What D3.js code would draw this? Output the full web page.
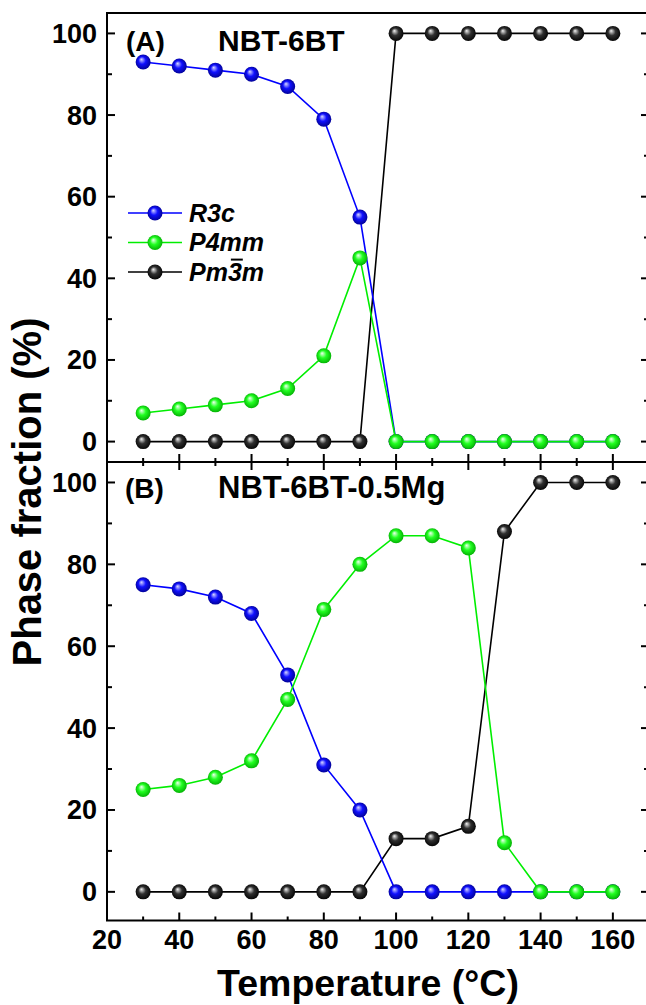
<!DOCTYPE html>
<html>
<head>
<meta charset="utf-8">
<script src="https://cdn.jsdelivr.net/npm/d3@7"></script>
<style>
  body { margin: 0; background: #fff; }
  svg text { font-family: "Liberation Sans", Arial, sans-serif; font-weight: bold; }
</style>
</head>
<body>
<svg id="chart" width="646" height="1005"></svg>
<script>
// temperatures (°C)
var temps = [30, 40, 50, 60, 70, 80, 90, 100, 110, 120, 130, 140, 150, 160];

// (A) NBT-6BT phase fractions (%)
var r3cA  = [93, 92, 91, 90, 87, 79, 55, 0, 0, 0, 0, 0, 0, 0];
var p4mmA = [7, 8, 9, 10, 13, 21, 45, 0, 0, 0, 0, 0, 0, 0];
var pm3mA = [0, 0, 0, 0, 0, 0, 0, 100, 100, 100, 100, 100, 100, 100];

// (B) NBT-6BT-0.5Mg phase fractions (%)
var r3cB  = [75, 74, 72, 68, 53, 31, 20, 0, 0, 0, 0, 0, 0, 0];
var p4mmB = [25, 26, 28, 32, 47, 69, 80, 87, 87, 84, 12, 0, 0, 0];
var pm3mB = [0, 0, 0, 0, 0, 0, 0, 13, 13, 16, 88, 100, 100, 100];

var xTickVals = [20, 40, 60, 80, 100, 120, 140, 160];
var yTickVals = [0, 20, 40, 60, 80, 100];

var svg = d3.select("#chart");

var x = d3.scaleLinear().domain([20, 170]).range([107, 649]);
var yA = d3.scaleLinear().domain([-5, 105]).range([462, 13]);
var yB = d3.scaleLinear().domain([-7, 105]).range([920.5, 462]);

// sphere gradients
var defs = svg.append("defs");
function sphere(id, hi, mid, edge) {
  var g = defs.append("radialGradient").attr("id", id)
    .attr("cx", "50%").attr("cy", "50%").attr("r", "55%")
    .attr("fx", "38%").attr("fy", "32%");
  g.append("stop").attr("offset", "0%").attr("stop-color", hi);
  g.append("stop").attr("offset", "45%").attr("stop-color", mid);
  g.append("stop").attr("offset", "100%").attr("stop-color", edge);
}
sphere("gBlue", "#d8d8ff", "#1010ff", "#00008a");
sphere("gGreen", "#f0fff0", "#22ff22", "#00a800");
sphere("gBlack", "#f4f4f4", "#303030", "#000000");

var series = [
  {name: "Pm3m", color: "#000000", fill: "url(#gBlack)"},
  {name: "R3c",  color: "#0000ff", fill: "url(#gBlue)"},
  {name: "P4mm", color: "#00ee00", fill: "url(#gGreen)"}
];

function panel(y) {
  var g = svg.append("g");
  var yTicksAll = d3.range(0, 101, 10);

  g.selectAll(".yl").data(yTicksAll).join("line")
    .attr("x1", x(20)).attr("x2", d => x(20) + (d % 20 === 0 ? 8 : 5))
    .attr("y1", d => y(d)).attr("y2", d => y(d))
    .attr("stroke", "#000").attr("stroke-width", 2);
  g.selectAll(".yr").data(yTicksAll).join("line")
    .attr("x1", x(170)).attr("x2", d => x(170) - (d % 20 === 0 ? 8 : 5))
    .attr("y1", d => y(d)).attr("y2", d => y(d))
    .attr("stroke", "#000").attr("stroke-width", 2);

  g.selectAll(".ylab").data(yTickVals).join("text")
    .attr("x", 97).attr("y", d => y(d) + 9.5)
    .attr("text-anchor", "end").attr("font-size", 27)
    .text(d => d);
  return g;
}
panel(yA);
panel(yB);

// x ticks: bottom of top panel (up), top of bottom panel (down), bottom axis (up)
var xTicksAll = d3.range(20, 171, 10);
function xticks(yPos, dir) {
  svg.append("g").selectAll("line").data(xTicksAll).join("line")
    .attr("x1", d => x(d)).attr("x2", d => x(d))
    .attr("y1", yPos).attr("y2", d => yPos + dir * (d % 20 === 0 ? 8 : 4))
    .attr("stroke", "#000").attr("stroke-width", 2);
}
xticks(yA.range()[0], -1);
xticks(yB.range()[1], 1);
xticks(yB.range()[0], -1);

// frames
[yA, yB].forEach(function (y) {
  svg.append("rect").attr("x", x(20)).attr("y", y.range()[1])
    .attr("width", x(170) - x(20)).attr("height", y.range()[0] - y.range()[1])
    .attr("fill", "none").attr("stroke", "#000").attr("stroke-width", 2);
});

// x tick labels
svg.append("g").selectAll("text").data(xTickVals).join("text")
  .attr("x", d => x(d)).attr("y", 949)
  .attr("text-anchor", "middle").attr("font-size", 27)
  .text(d => d);

function drawSeries(y, arrays) {
  series.forEach(function (s, i) {
    var vals = arrays[i];
    var pts = temps.map((t, j) => [t, vals[j]]);
    var line = d3.line().x(d => x(d[0])).y(d => y(d[1]));
    svg.append("path").datum(pts).attr("d", line)
      .attr("fill", "none").attr("stroke", s.color).attr("stroke-width", 1.6);
    svg.append("g").selectAll("circle").data(pts).join("circle")
      .attr("cx", d => x(d[0])).attr("cy", d => y(d[1])).attr("r", 7.5)
      .attr("fill", s.fill);
  });
}
drawSeries(yA, [pm3mA, r3cA, p4mmA]);
drawSeries(yB, [pm3mB, r3cB, p4mmB]);

// panel titles
svg.append("text").attr("x", 126).attr("y", 51).attr("font-size", 28).text("(A)");
svg.append("text").attr("x", 218).attr("y", 51).attr("font-size", 30).text("NBT-6BT");
svg.append("text").attr("x", 125).attr("y", 498).attr("font-size", 28).text("(B)");
svg.append("text").attr("x", 218).attr("y", 498).attr("font-size", 31).text("NBT-6BT-0.5Mg");

// legend
var legY = [213, 242.5, 272];
var legOrder = [1, 2, 0];
var legFs = 25;
var leg = svg.append("g");
legOrder.forEach(function (si, k) {
  var s = series[si];
  leg.append("line").attr("x1", 128).attr("x2", 182)
    .attr("y1", legY[k]).attr("y2", legY[k])
    .attr("stroke", s.color).attr("stroke-width", 1.6);
  leg.append("circle").attr("cx", 155).attr("cy", legY[k]).attr("r", 7.5).attr("fill", s.fill);
  var base = legY[k] + 8.5;
  var t = leg.append("text").attr("x", 189).attr("y", base)
    .attr("font-size", legFs).attr("font-style", "italic")
    .text(s.name);
  if (s.name === "Pm3m") {
    // bar over the "3"
    var box = t.node().getExtentOfChar(2);
    var yb = base - 0.716 * legFs - 3;
    leg.append("line")
      .attr("x1", box.x + 3).attr("x2", box.x + box.width + 1)
      .attr("y1", yb).attr("y2", yb)
      .attr("stroke", "#000").attr("stroke-width", 2);
  }
});

// axis titles
svg.append("text").attr("x", 368).attr("y", 996)
  .attr("text-anchor", "middle").attr("font-size", 37.5)
  .text("Temperature (°C)");
svg.append("text").attr("transform", "translate(41,492) rotate(-90)")
  .attr("text-anchor", "middle").attr("font-size", 40)
  .text("Phase fraction (%)");
</script>
</body>
</html>
